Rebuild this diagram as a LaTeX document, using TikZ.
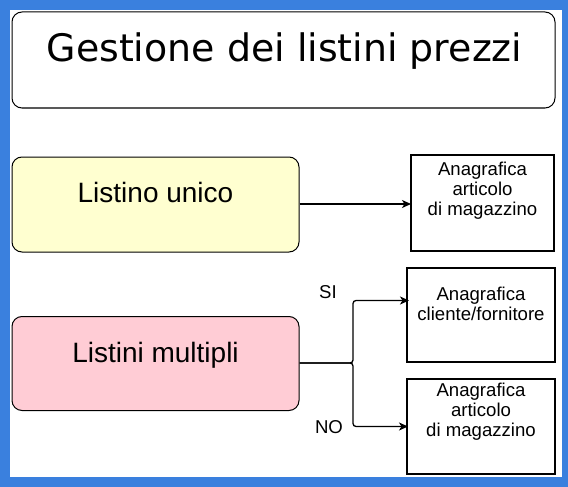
\documentclass[tikz,border=0pt]{standalone}
\usepackage{fontspec}
\setmainfont{Liberation Sans}
\newfontfamily\titlefont{DejaVu Sans}
\usetikzlibrary{arrows.meta}
\definecolor{frameblue}{RGB}{58,128,222}
\definecolor{boxyellow}{RGB}{255,255,208}
\definecolor{boxpink}{RGB}{255,204,213}
\tikzset{
  roundbox/.style={draw=black, line width=1pt, rounded corners=10pt, inner sep=0pt},
  plainbox/.style={draw=black, line width=1.6pt, fill=white, inner sep=0pt},
  bigtxt/.style={anchor=base, inner sep=0pt, font=\fontsize{28}{32}\selectfont},
  smalltxt/.style={anchor=base, inner sep=0pt, align=center, font=\fontsize{18.6}{20}\selectfont},
  conn/.style={draw=black, line width=1.3pt, rounded corners=3pt, -{Stealth[length=9pt,width=8pt,inset=2.5pt]}},
}
\begin{document}
\begin{tikzpicture}[x=1pt,y=-1pt]
\useasboundingbox (0,0) rectangle (568,487);
\fill[frameblue] (0,0) rectangle (568,487);
\fill[white] (10,10) rectangle (562,477);
% title
\node[roundbox, fill=white, minimum width=543pt, minimum height=96pt] (title) at (283.5,60) {};
\node[anchor=base, inner sep=0pt, font=\titlefont\fontsize{37.9}{42}\selectfont] (titletxt) at (284.5,62) {Gestione dei listini prezzi};
% left boxes
\node[roundbox, fill=boxyellow, minimum width=287pt, minimum height=95pt] (unico) at (155.5,204.5) {};
\node[bigtxt] (unicotxt) at (155.5,202.7) {Listino unico};
\node[roundbox, fill=boxpink, minimum width=287pt, minimum height=94pt] (multi) at (155.5,363.5) {};
\node[bigtxt] (multitxt) at (155.5,362.7) {Listini multipli};
% right boxes (base anchor = baseline of last line)
\node[plainbox, minimum width=143pt, minimum height=96pt] (art1) at (482.5,203) {};
\node[smalltxt] (art1txt) at (482.5,215.7) {Anagrafica\\articolo\\di magazzino};
\node[plainbox, minimum width=148pt, minimum height=94pt] (cli) at (481,315) {};
\node[smalltxt] (clitxt) at (481,320) {Anagrafica\\cliente/fornitore};
\node[plainbox, minimum width=148pt, minimum height=95pt] (art2) at (481,426.5) {};
\node[smalltxt] (art2txt) at (481,436) {Anagrafica\\articolo\\di magazzino};
% connectors
\coordinate (split) at (353,363);
\coordinate (cliin) at (409,300.5);
\coordinate (art2in) at (408,426.5);
\draw[conn] (unico.east |- 0,204) -- (411,204);
\draw[conn] (multi.east |- split) -- (split) -- (split |- cliin) -- (cliin);
\draw[conn] (multi.east |- split) -- (split) -- (split |- art2in) -- (art2in);
% labels
\node[smalltxt, anchor=center] (si) at (328,292) {SI};
\node[smalltxt, anchor=center] (no) at (329,427) {NO};
\end{tikzpicture}
\end{document}
